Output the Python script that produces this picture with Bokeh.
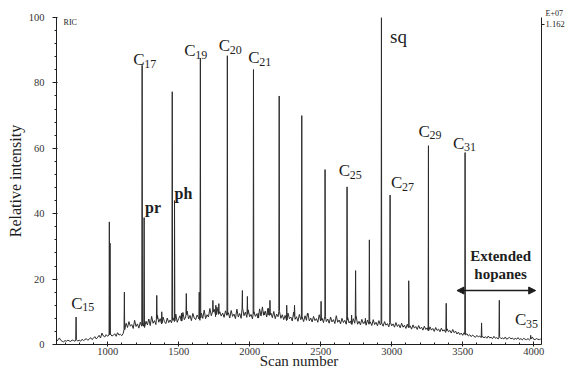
import numpy as np
from bokeh.plotting import figure
from bokeh.models import (ColumnDataSource, Range1d, LinearAxis, FixedTicker, Label,
                          Arrow, NormalHead, SingleIntervalTicker)
from bokeh.core.properties import value
from bokeh.embed import file_html
from bokeh.resources import INLINE

# ---------------- data ----------------
# discrete peaks: scan number and relative intensity at apex
peak_scan = [778, 1012, 1017, 1118, 1243, 1257, 1346, 1381, 1455, 1471, 1520, 1554,
             1645, 1653, 1741, 1762, 1783, 1843, 1949, 1984, 2027, 2060, 2100, 2130,
             2143, 2208, 2261, 2316, 2367, 2407, 2503, 2531, 2686, 2718, 2746, 2815,
             2843, 2928, 2989, 3120, 3259, 3384, 3517, 3633, 3758, 3979]
peak_height = [8.4, 37.5, 31.0, 16.0, 85.4, 38.8, 15.0, 10.0, 77.3, 44.0, 9.6, 15.6,
               16.0, 87.6, 13.5, 12.0, 12.5, 88.3, 16.5, 14.7, 84.1, 9.5, 10.0, 9.0,
               13.5, 76.0, 12.0, 12.0, 70.0, 9.6, 13.2, 53.5, 48.2, 9.0, 22.6, 8.0,
               32.0, 100.0, 45.7, 19.5, 60.8, 12.6, 58.7, 6.6, 13.5, 2.8]

# baseline / unresolved hump with its noise, one value every 10 scans from 640 to 4050
base_first, base_step = 640, 10
base_level = [
    0.9, 1.4, 2.0, 1.3, 1.0, 0.8, 1.2, 1.0, 1.3, 1.1, 0.9, 1.4, 1.2, 1.0, 1.5, 1.1, 1.3, 1.0, 1.6, 1.2,
    1.5, 1.8, 1.3, 1.6, 2.1, 1.5, 1.9, 2.4, 1.7, 2.2, 2.8, 2.0, 3.5, 2.6, 2.3, 3.0, 2.5, 2.9, 3.2, 2.6,
    2.8, 3.3, 2.5, 3.6, 2.9, 3.1, 2.7, 3.4, 4.8, 6.5, 5.2, 7.0, 5.6, 6.1, 4.9, 7.4, 5.5, 6.3, 5.0, 6.8,
    5.6, 6.4, 5.2, 7.1, 6.0, 7.8, 5.8, 8.6, 6.5, 7.3, 6.1, 9.0, 6.8, 7.9, 6.3, 8.4, 7.0, 6.4, 8.1, 6.7,
    7.5, 6.6, 8.2, 7.0, 9.3, 6.8, 7.9, 8.8, 7.2, 9.8, 7.6, 8.4, 10.2, 7.8, 8.9, 7.3, 9.5, 8.1, 7.6, 9.0,
    8.2, 7.4, 9.6, 8.0, 10.5, 7.9, 9.1, 8.4, 11.0, 8.8, 9.9, 10.8, 8.5, 11.4, 9.2, 10.0, 8.7, 9.6, 8.3, 10.3,
    8.9, 9.7, 8.1, 10.4, 8.6, 9.3, 7.9, 10.8, 8.4, 9.5, 8.0, 11.2, 8.8, 9.9, 8.3, 10.6, 8.5, 9.2, 7.8, 10.0,
    8.6, 9.4, 8.1, 10.9, 8.7, 11.5, 9.0, 10.2, 8.4, 11.0, 8.9, 9.6, 8.2, 10.1, 7.9, 9.3, 8.5, 10.4, 8.0, 9.1,
    7.6, 8.9, 7.3, 9.6, 7.9, 8.4, 7.2, 9.9, 7.7, 8.5, 7.1, 9.2, 7.6, 8.3, 7.0, 8.8, 7.4, 9.5, 7.2, 8.1,
    6.9, 8.6, 7.3, 7.9, 6.8, 9.1, 7.2, 8.0, 6.7, 8.7, 7.0, 7.8, 6.5, 8.4, 6.9, 7.6, 6.4, 8.8, 6.8, 7.5,
    6.3, 8.0, 6.7, 7.4, 6.2, 8.3, 6.6, 7.2, 6.1, 7.9, 6.5, 8.6, 6.2, 7.1, 6.0, 7.7, 6.4, 7.0, 5.9, 7.5,
    6.2, 6.9, 5.8, 7.6, 6.1, 6.8, 5.7, 7.3, 6.0, 6.6, 5.6, 7.0, 5.9, 6.4, 5.4, 6.9, 5.7, 6.3, 5.3, 6.7,
    5.5, 6.1, 5.1, 6.5, 5.3, 5.9, 4.9, 6.2, 5.2, 5.7, 4.7, 6.0, 5.0, 5.5, 4.6, 5.8, 4.8, 5.3, 4.4, 5.6,
    4.6, 5.1, 4.2, 5.4, 4.4, 4.9, 4.0, 5.2, 4.3, 4.7, 3.9, 5.0, 4.1, 4.5, 3.7, 4.8, 3.9, 4.3, 3.5, 4.6,
    3.6, 4.1, 3.2, 3.8, 3.0, 3.5, 2.8, 3.6, 2.9, 3.3, 2.6, 3.0, 2.4, 2.9, 2.5, 2.2, 2.8, 2.3, 2.6, 2.1,
    2.5, 2.0, 2.4, 1.9, 2.6, 2.0, 2.2, 1.8, 2.5, 1.9, 2.1, 1.7, 2.4, 1.8, 2.0, 1.7, 2.3, 1.6, 1.9, 2.2,
    1.7, 2.0, 1.5, 1.9, 1.6, 2.1, 1.5, 1.8, 1.4, 1.9, 1.6, 1.5, 1.8, 1.4, 1.7, 2.3, 1.6, 1.5, 1.8, 1.6,
    1.5, 1.7]

# n-alkane labels (carbon number) and their anchor (scan, intensity)
alk_num = ["15", "17", "19", "20", "21", "25", "27", "29", "31", "35"]
alk_x = [744, 1180, 1540, 1783, 1991, 2628, 2995, 3189, 3432, 3868]
alk_y = [12.6, 87.1, 89.8, 91.3, 87.7, 53.2, 49.5, 65.2, 61.6, 7.5]

# other compound labels
cmp_text = ["pr", "ph"]
cmp_x = [1263, 1471]
cmp_y = [42.0, 46.2]
sq_text, sq_x, sq_y = "sq", 2989, 94.3

# extended hopanes range
hop_range = [3460, 4014]
hop_level = 16.5

x_ticks_interval = 500
y_ticks_interval = 20
x_start, x_end = 640, 4055
full_scale = "1.162"
full_scale_exp = "E+07"
full_scale_tick = 98

# ---------------- build trace ----------------
by = np.array(base_level, dtype=float)
bx = base_first + base_step * np.arange(len(by))
xs = list(bx)
ys = list(by)
for s, h in zip(peak_scan, peak_height):
    b = float(np.interp(s, bx, by))
    xs += [s - 2.5, s, s + 2.5]
    ys += [b, h, b]
order = np.argsort(np.array(xs, dtype=float), kind="stable")
trace = ColumnDataSource(dict(x=np.array(xs, dtype=float)[order], y=np.array(ys)[order]))

SERIF = "Liberation Serif"
INK = "#1e1e1e"

p = figure(width=567, height=371, x_range=Range1d(x_start, x_end), y_range=Range1d(0, 100),
           output_backend="svg", toolbar_location=None,
           min_border_left=56, min_border_right=22, min_border_top=17, min_border_bottom=27)
p.grid.visible = False
p.outline_line_color = None

# "E+07" exponent shown above the right axis
p.title.text = full_scale_exp
p.title.text_font = SERIF
p.title.text_font_size = "8px"
p.title.text_font_style = "normal"
p.title.text_color = INK
p.title.align = "left"
p.title.offset = 489
p.title.standoff = 0

p.line("x", "y", source=trace, line_color="#2b2b2b", line_width=1.0)

# axes
p.xaxis.ticker = SingleIntervalTicker(interval=x_ticks_interval, num_minor_ticks=5)
p.yaxis.ticker = SingleIntervalTicker(interval=y_ticks_interval, num_minor_ticks=5)
for ax in (p.xaxis[0], p.yaxis[0]):
    ax.axis_line_color = INK
    ax.major_tick_line_color = INK
    ax.minor_tick_line_color = INK
    ax.major_label_text_font = SERIF
    ax.major_label_text_font_size = "10.5px"
    ax.major_label_text_color = "#333333"
    ax.axis_label_text_font = SERIF
    ax.axis_label_text_font_style = "normal"
    ax.axis_label_text_color = INK
p.xaxis.major_tick_in = 3
p.xaxis.major_tick_out = 2
p.xaxis.minor_tick_in = 2
p.xaxis.minor_tick_out = 0
p.xaxis.major_label_standoff = 1
p.xaxis.axis_label = "Scan number"
p.xaxis.axis_label_text_font_size = "15px"
p.xaxis.axis_label_standoff = -5

p.yaxis.major_tick_in = 1
p.yaxis.major_tick_out = 4
p.yaxis.minor_tick_in = 0
p.yaxis.minor_tick_out = 2
p.yaxis.major_label_standoff = 8
p.yaxis.axis_label = "Relative intensity"
p.yaxis.axis_label_text_font_size = "16px"
p.yaxis.axis_label_standoff = 2

ra = LinearAxis(ticker=FixedTicker(ticks=[full_scale_tick]), major_tick_in=0, major_tick_out=3,
                minor_tick_out=0, minor_tick_in=0, axis_line_color=INK,
                major_tick_line_color=INK, major_label_text_font=SERIF,
                major_label_text_font_size="8.5px", major_label_text_color=INK,
                major_label_overrides={full_scale_tick: full_scale}, major_label_standoff=1)
p.add_layout(ra, "right")

# alkane labels
alk_src = ColumnDataSource(dict(x=alk_x, y=alk_y, num=alk_num, c=["C"] * len(alk_num)))
p.text("x", "y", text="c", source=alk_src, text_font=value(SERIF), text_font_size="17px",
       text_color=INK, text_align="left", text_baseline="alphabetic")
p.text("x", "y", text="num", source=alk_src, text_font=value(SERIF), text_font_size="12px",
       text_color=INK, text_align="left", text_baseline="alphabetic", x_offset=11, y_offset=4)

cmp_src = ColumnDataSource(dict(x=cmp_x, y=cmp_y, t=cmp_text))
p.text("x", "y", text="t", source=cmp_src, text_font=value(SERIF), text_font_size="16px",
       text_font_style="bold", text_color=INK, text_align="left", text_baseline="alphabetic")
p.add_layout(Label(x=sq_x, y=sq_y, text=sq_text, text_font=SERIF, text_font_size="19px",
                   text_color=INK, text_align="left", text_baseline="alphabetic"))

# extended hopanes
p.add_layout(Arrow(x_start=hop_range[0], y_start=hop_level, x_end=hop_range[1], y_end=hop_level,
                   line_color=INK, line_width=1.5,
                   start=NormalHead(size=7, fill_color=INK, line_color=INK),
                   end=NormalHead(size=7, fill_color=INK, line_color=INK)))
mid = (hop_range[0] + hop_range[1]) / 2 + 30
p.add_layout(Label(x=mid, y=27.0, text="Extended", text_font=SERIF, text_font_size="15px",
                   text_font_style="bold", text_color=INK, text_align="center",
                   text_baseline="alphabetic"))
p.add_layout(Label(x=mid, y=21.6, text="hopanes", text_font=SERIF, text_font_size="15px",
                   text_font_style="bold", text_color=INK, text_align="center",
                   text_baseline="alphabetic"))

# RIC marker at the top of the left axis
p.add_layout(Label(x=690, y=98.6, text="RIC", text_font=SERIF, text_font_size="8px",
                   text_color=INK, text_align="left", text_baseline="alphabetic"))

open("out.html", "w").write(file_html(p, INLINE))
